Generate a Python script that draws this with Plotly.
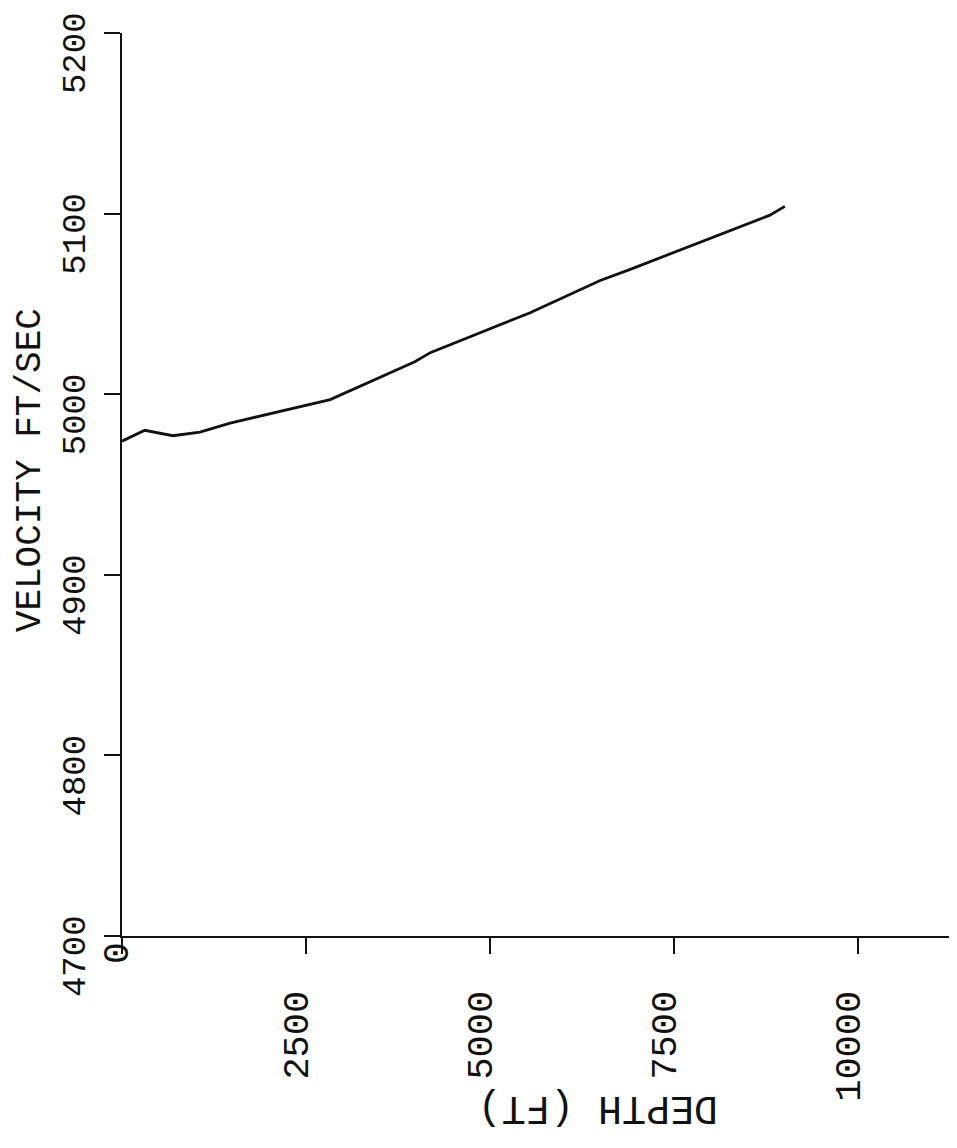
import plotly.graph_objects as go

# velocity profile
depth_ft = [0, 310, 690, 1060, 1470, 2830, 3980, 4190, 5540, 6500, 6900, 7850, 8800, 9010]
velocity_fps = [4974, 4980, 4977, 4979, 4984, 4997, 5018, 5023, 5045, 5063, 5069, 5084, 5099, 5104]

x_ticks = [0, 2500, 5000, 7500, 10000]
x_ticklabels = ["", "2500", "5000", "7500", "10000"]
y_ticks = [4700, 4800, 4900, 5000, 5100, 5200]
y_ticklabels = ["4700", "4800", "4900", "5000", "5100", "5200"]

FONT = "Liberation Mono"
INK = "#111111"

fig = go.Figure()
fig.add_trace(go.Scatter(x=depth_ft, y=velocity_fps, mode="lines",
                         line=dict(color=INK, width=2.8), showlegend=False))

# page body adds 8px on top/left, so the figure is 8px smaller
fig.update_layout(
    width=949, height=1140,
    margin=dict(l=114, r=0, t=25, b=212),
    paper_bgcolor="white", plot_bgcolor="white",
    font=dict(family=FONT, color=INK),
)

fig.update_xaxes(
    range=[0, 11350], tickvals=x_ticks, ticktext=x_ticklabels,
    tickangle=-90, tickfont=dict(size=37, family=FONT),
    ticks="outside", ticklen=16, tickwidth=2, tickcolor=INK,
    ticklabelstandoff=22, ticklabelshift=-10,
    showline=True, linecolor=INK, linewidth=2,
    showgrid=False, zeroline=False,
)
fig.update_yaxes(
    range=[4700, 5200], tickvals=y_ticks, showticklabels=False,
    ticks="outside", ticklen=16, tickwidth=2, tickcolor=INK,
    showline=True, linecolor=INK, linewidth=2,
    showgrid=False, zeroline=False,
)

# velocity labels: rotated, centred a little below their ticks
for val, lab in zip(y_ticks, y_ticklabels):
    fig.add_annotation(text=lab, xref="paper", x=-0.055, yref="y", y=val,
                       xanchor="center", yanchor="middle", yshift=-20,
                       textangle=-90, showarrow=False,
                       font=dict(size=34, family=FONT, color=INK))

# axis titles as the plotter wrote them
fig.add_annotation(text="VELOCITY FT/SEC", xref="paper", yref="paper",
                   x=-0.11, y=0.516, xanchor="center", yanchor="middle",
                   textangle=-90, showarrow=False,
                   font=dict(size=36, family=FONT, color=INK))
fig.add_annotation(text="DEPTH (FT)", xref="paper", yref="paper",
                   x=0.57, y=-0.19, xanchor="center", yanchor="middle",
                   textangle=180, showarrow=False,
                   font=dict(size=40, family=FONT, color=INK))
# zero of the depth axis sits right under the corner
fig.add_annotation(text="0", x=0, xref="x", y=0, yref="paper",
                   xanchor="center", yanchor="top", yshift=-4, xshift=-4,
                   textangle=-90, showarrow=False,
                   font=dict(size=36, family=FONT, color=INK))

fig.write_html("out.html")
